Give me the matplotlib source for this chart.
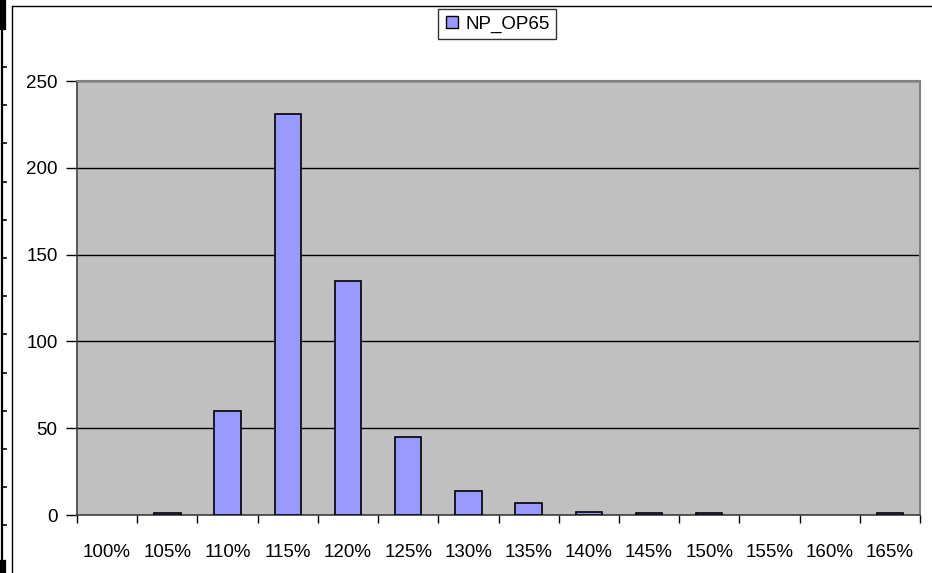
import matplotlib
matplotlib.use("Agg")
import matplotlib.pyplot as plt
import numpy as np
from matplotlib.lines import Line2D

plt.rcParams['font.family'] = ['Liberation Sans', 'DejaVu Sans']

# Distribution of NP_OP65 ratios
categories = ["100%", "105%", "110%", "115%", "120%", "125%", "130%",
              "135%", "140%", "145%", "150%", "155%", "160%", "165%"]
counts = [0, 1, 60, 231, 135, 45, 14, 7, 2, 1, 1, 0, 0, 1]
series_name = "NP_OP65"
y_ticks = [0, 50, 100, 150, 200, 250]

W, H = 932, 573
fig = plt.figure(figsize=(W / 100, H / 100), dpi=100)
fig.patch.set_facecolor("white")

# page frame decoration (pixel coordinates)
deco = fig.add_axes([0, 0, 1, 1], zorder=0)
deco.set_xlim(0, W)
deco.set_ylim(H, 0)
deco.axis("off")
deco.plot([1.5, 1.5], [0, H], color="black", lw=1.6)
deco.plot([2.5, 2.5], [0, 27], color="black", lw=4.5)
deco.plot([2.5, 2.5], [563, H], color="black", lw=4.5)
for ty in np.arange(67, 530, 38.2):
    deco.plot([1.5, 5.5], [ty, ty], color="black", lw=1.2)
deco.plot([11.5, 11.5], [6, H], color="black", lw=1.0)
deco.plot([11.5, W], [6, 6], color="black", lw=1.0)

ax = fig.add_axes([77 / W, 1 - 515 / H, (920 - 77) / W, (515 - 81) / H], zorder=1)
ax.set_facecolor("#C0C0C0")

x = np.arange(len(categories))
edge_widths = [1.2 if c > 0 else 0 for c in counts]
ax.bar(x, counts, width=0.44, color="#9999FF", edgecolor="black",
       linewidth=edge_widths, zorder=3, label=series_name)

ax.set_xlim(-0.5, len(categories) - 0.5)
ax.set_ylim(0, 250)
ax.set_yticks(y_ticks)
ax.set_yticklabels([str(v) for v in y_ticks], fontsize=13.5)
ax.yaxis.grid(True, color="black", linewidth=1.0, zorder=1)
ax.set_axisbelow(True)

# category boundaries as ticks, labels centred on categories
ax.set_xticks(np.arange(-0.5, len(categories), 1.0))
ax.set_xticklabels([])
ax.set_xticks(x, minor=True)
ax.set_xticklabels(categories, minor=True, fontsize=13.5)
ax.tick_params(axis="x", which="major", length=6, width=1, color="black", direction="out")
ax.tick_params(axis="x", which="minor", length=0, pad=21)
ax.tick_params(axis="y", length=8, width=1, color="black", direction="out", pad=6)

for side in ("top", "right"):
    ax.spines[side].set_color("#808080")
    ax.spines[side].set_linewidth(1.5)
for side in ("left", "bottom"):
    ax.spines[side].set_color("#404040")
    ax.spines[side].set_linewidth(1.2)

handle = Line2D([], [], marker="s", linestyle="none", markersize=9,
                markerfacecolor="#9999FF", markeredgecolor="black", markeredgewidth=1)
leg = fig.legend([handle], [series_name], loc="upper center",
                 bbox_to_anchor=(497 / W, 1 - 9 / H), fontsize=13.5,
                 frameon=True, fancybox=False, shadow=False,
                 handlelength=0.8, handletextpad=0.3, borderpad=0.35,
                 borderaxespad=0)
leg.get_frame().set_edgecolor("black")
leg.get_frame().set_linewidth(1.0)

fig.savefig("out.png", dpi=100, facecolor="white")
